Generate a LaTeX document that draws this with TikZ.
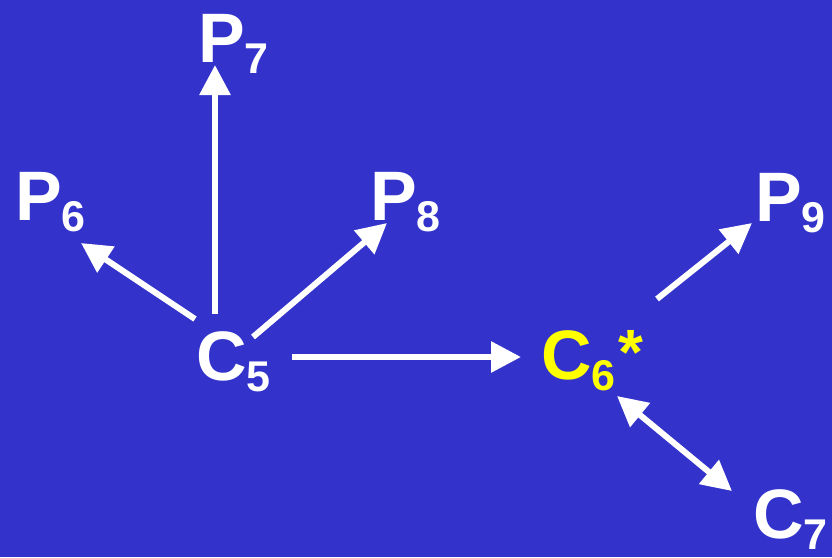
\documentclass[tikz,border=0pt]{standalone}
\usepackage{fontspec}
\setmainfont{Liberation Sans}
\usetikzlibrary{arrows.meta}
\definecolor{bgblue}{RGB}{51,51,204}
\definecolor{labyellow}{RGB}{255,255,0}
\newcommand{\lab}[2]{{\bfseries\fontsize{70}{70}\selectfont #1\raisebox{-11pt}{\fontsize{43}{43}\selectfont #2}}}
\tikzset{
  lbl/.style={anchor=base west, inner sep=0pt, outer sep=0pt, text=white},
  arr/.style={draw=white, line width=6pt, -{Triangle[length=30pt,width=30pt]}},
  darr/.style={draw=white, line width=6pt, {Triangle[length=30pt,width=30pt]}-{Triangle[length=30pt,width=30pt]}}
}
\begin{document}
\begin{tikzpicture}[x=1pt,y=-1pt]
\fill[bgblue] (0,0) rectangle (832,557);
\useasboundingbox (0,0) rectangle (832,557);
\node[lbl] (P7) at (198,62) {\lab{P}{7}};
\node[lbl] (P6) at (15,220) {\lab{P}{6}};
\node[lbl] (P8) at (370,220) {\lab{P}{8}};
\node[lbl] (P9) at (755,221) {\lab{P}{9}};
\node[lbl] (C5) at (196,380) {\lab{C}{5}};
\node[lbl, text=labyellow] (C6) at (541,379) {\lab{C}{6}{\bfseries\fontsize{64}{64}\selectfont\hspace{3pt}\raisebox{5pt}{*}}};
\node[lbl] (C7) at (753,538) {\lab{C}{7}};
\coordinate (c5up) at (215,314);
\coordinate (p7in) at (215,65);
\coordinate (c5left) at (195,319);
\coordinate (p6in) at (81,243);
\coordinate (c5right) at (253,337);
\coordinate (p8in) at (387,223);
\coordinate (c5east) at (292,357);
\coordinate (c6west) at (521,357);
\coordinate (c6ne) at (657,299);
\coordinate (p9in) at (752,223);
\coordinate (c6se) at (617,396);
\coordinate (c7nw) at (732,491);
\draw[arr] (c5up) -- (p7in);
\draw[arr] (c5left) -- (p6in);
\draw[arr] (c5right) -- (p8in);
\draw[arr] (c5east) -- (c6west);
\draw[arr] (c6ne) -- (p9in);
\draw[darr] (c6se) -- (c7nw);
\end{tikzpicture}
\end{document}
